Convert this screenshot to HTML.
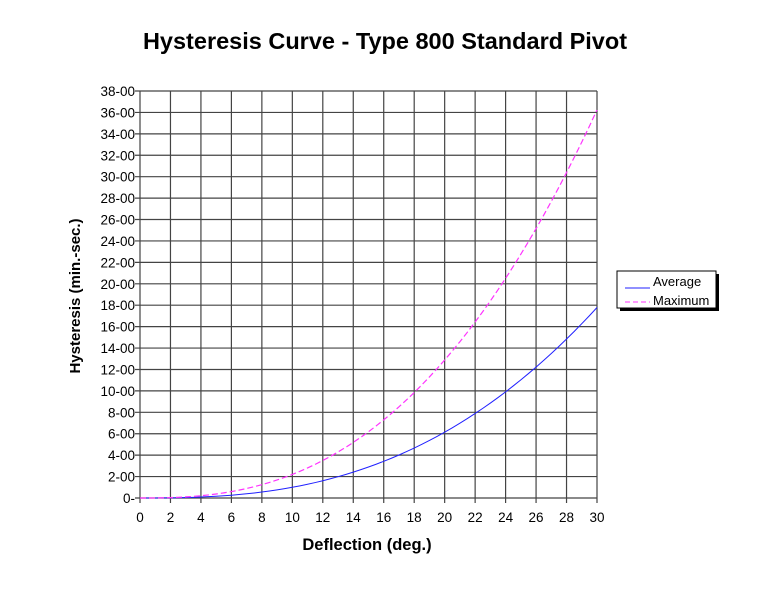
<!DOCTYPE html>
<html><head><style>body{margin:0;background:#fff}svg{display:block}text{font-family:"Liberation Sans",Arial,sans-serif}</style></head><body>
<svg width="768" height="598" viewBox="0 0 768 598" xmlns="http://www.w3.org/2000/svg">
<text x="385" y="49" font-size="23.5" font-weight="bold" text-anchor="middle">Hysteresis Curve - Type 800 Standard Pivot</text>
<g id="grid" stroke="#444" stroke-width="1.2"></g>
<g id="lbl" font-size="13.5"></g>
<text x="367" y="550" font-size="16.5" font-weight="bold" text-anchor="middle">Deflection (deg.)</text>
<text transform="translate(80,296) rotate(-90)" font-size="15" font-weight="bold" text-anchor="middle">Hysteresis (min.-sec.)</text>
<path id="avg" fill="none" stroke="#2020ff" stroke-width="1"/>
<path id="max" fill="none" stroke="#ff33ff" stroke-width="1.2" stroke-dasharray="6,3"/>
<rect x="620" y="274" width="99" height="37" fill="#000"/>
<rect x="617" y="271" width="99" height="37" fill="#fff" stroke="#000"/>
<line x1="625" y1="288" x2="650" y2="288" stroke="#2020ff"/>
<line x1="625" y1="302" x2="650" y2="302" stroke="#ff33ff" stroke-dasharray="5,3"/>
<text x="653" y="286" font-size="13">Average</text>
<text x="653" y="305" font-size="13">Maximum</text>
</svg>
<script>
var X=function(v){return 140+v*457/30},Y=function(v){return 498-v*407/38};
var g=document.getElementById('grid'),l=document.getElementById('lbl'),s='',t='';
for(var i=0;i<=30;i+=2){s+='<line x1="'+X(i)+'" y1="91" x2="'+X(i)+'" y2="503"/>';t+='<text x="'+X(i)+'" y="522" text-anchor="middle">'+i+'</text>';}
for(var j=0;j<=38;j+=2){s+='<line x1="135" y1="'+Y(j)+'" x2="597" y2="'+Y(j)+'"/>';var lab=j==0?'0-':j+'-00';t+='<text x="135" y="'+(Y(j)+5)+'" text-anchor="end">'+lab+'</text>';}
g.innerHTML=s;l.innerHTML=t;
var a='',m='';for(var k=0;k<=60;k++){var x=k/2;a+=(k?'L':'M')+X(x)+','+Y(1.0*Math.pow(x/10,2.62));m+=(k?'L':'M')+X(x)+','+Y(2.2*Math.pow(x/10,2.55));}
document.getElementById('avg').setAttribute('d',a);document.getElementById('max').setAttribute('d',m);
</script>
</body></html>
